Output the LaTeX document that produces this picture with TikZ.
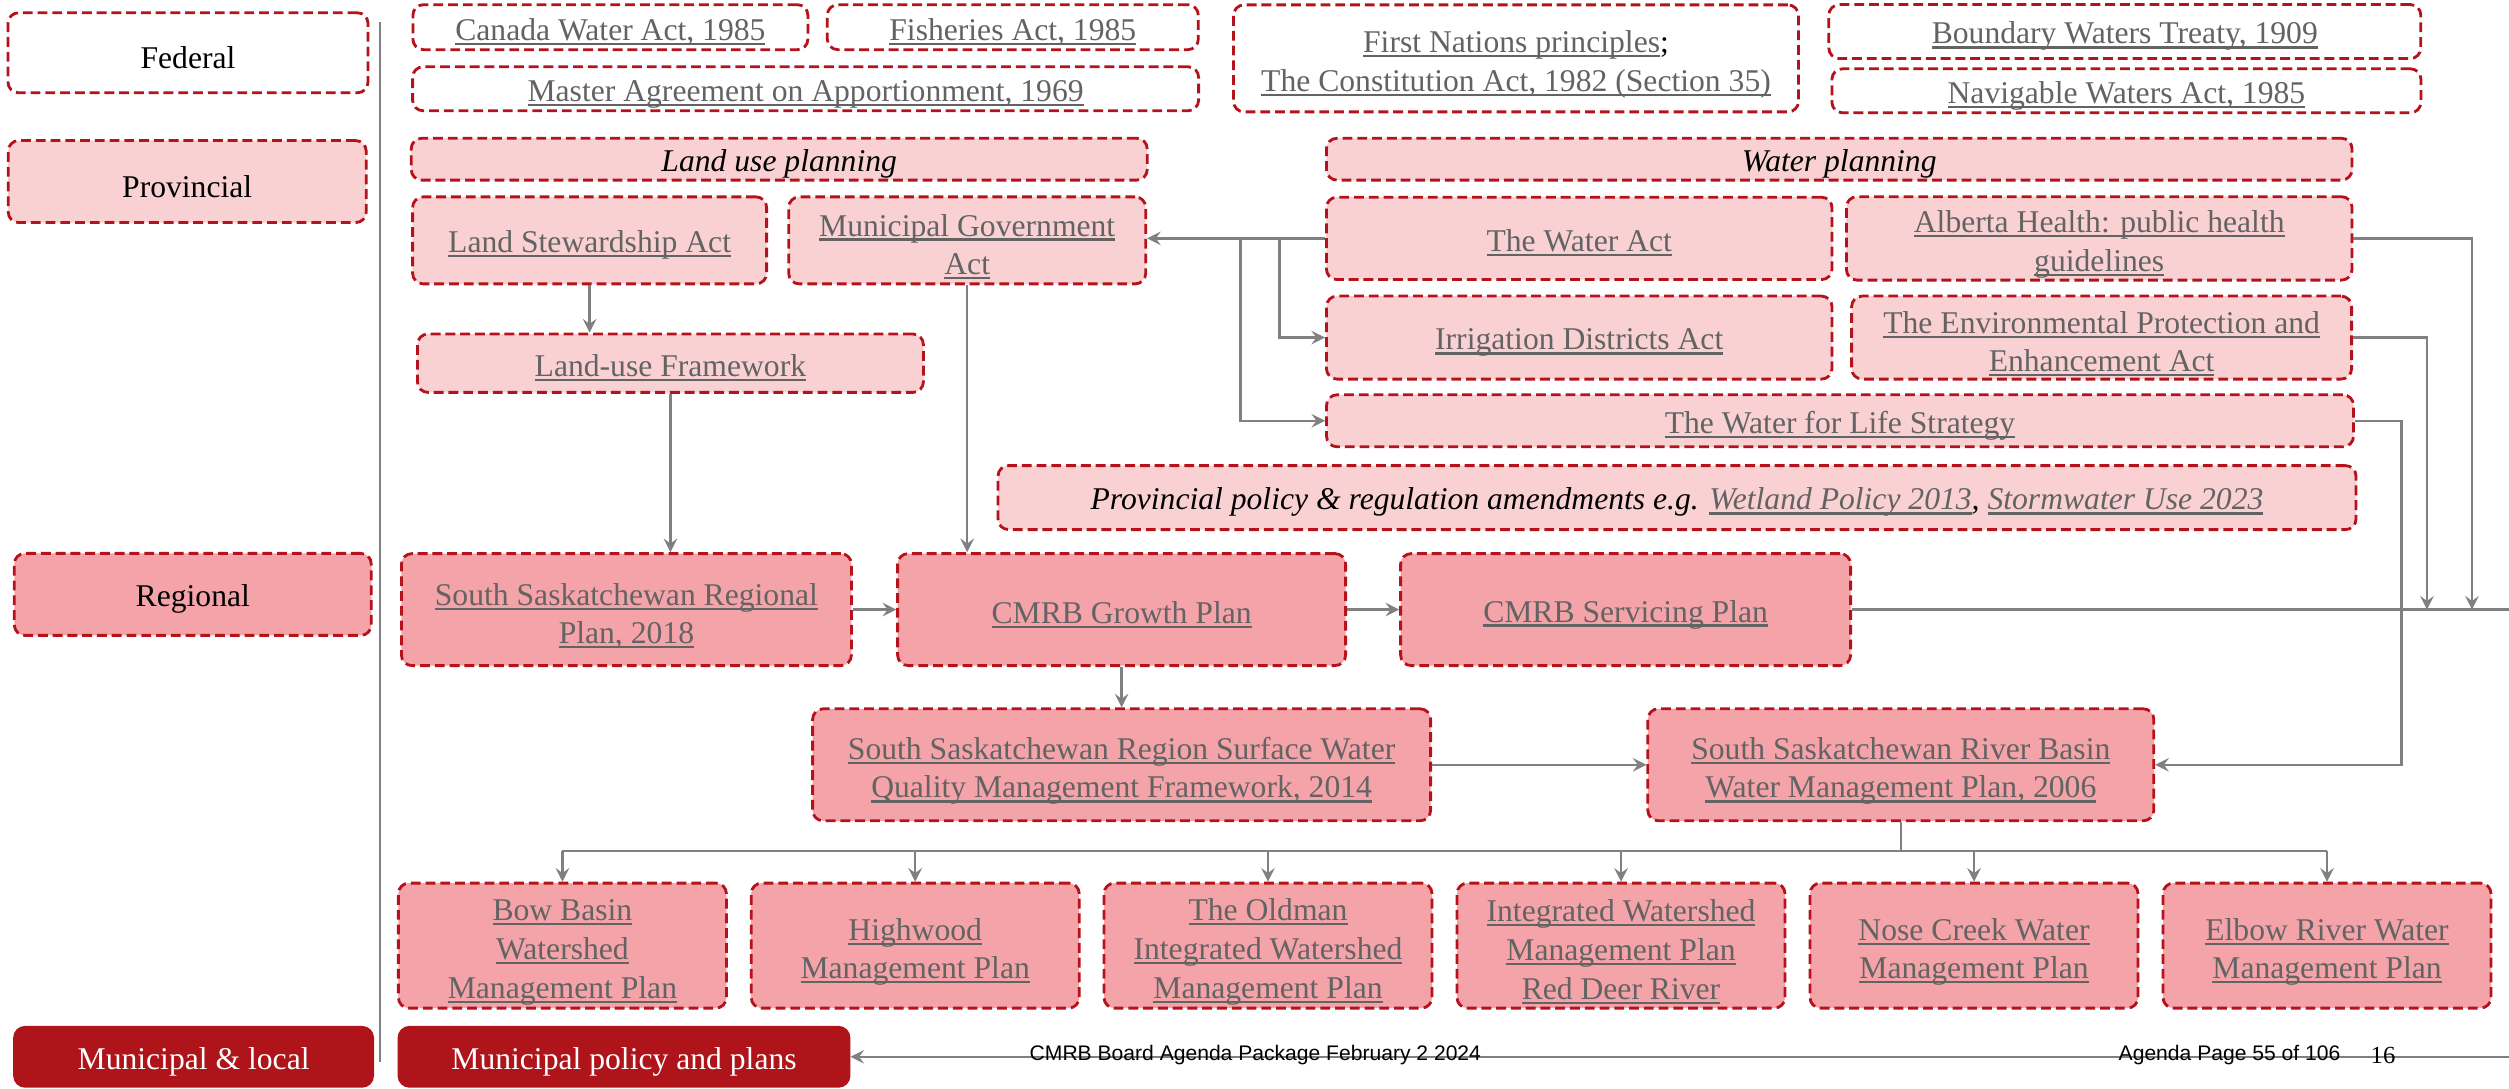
\documentclass[tikz,border=0pt]{standalone}
\usepackage{fontspec}
\setmainfont{Liberation Serif}
\newfontfamily\footfont{Liberation Sans}
\usetikzlibrary{positioning}
\definecolor{lpink}{HTML}{F9D1D3}
\definecolor{mpink}{HTML}{F4A3A8}
\definecolor{dred}{HTML}{AE1419}
\definecolor{bred}{HTML}{B5121B}
\definecolor{lnkgray}{HTML}{636363}
\definecolor{lgray}{HTML}{808080}
\newcommand{\lnk}[1]{{\color{lnkgray}\setbox0\hbox{#1}\rlap{\rule[-1.3pt]{\wd0}{0.6pt}}\box0}}
\newcommand{\up}{\rule{0pt}{9.8pt}}
\tikzset{
  box/.style={draw=bred,line width=0.8pt,dash pattern=on 2.8pt off 1.4pt,rounded corners=3pt,
    align=center,inner xsep=1pt,inner ysep=0.5pt,font=\fontsize{9}{11}\selectfont,
    execute at begin node={\rule{0pt}{9pt}}},
  fed/.style={box,fill=white},
  prov/.style={box,fill=lpink},
  reg/.style={box,fill=mpink},
  muni/.style={box,solid,draw=dred,fill=dred,text=white},
  conn/.style={draw=lgray,line width=0.7pt},
  arr/.style={conn,-stealth}
}
\begin{document}
\begin{tikzpicture}
\useasboundingbox (0,0) rectangle (25.09,10.88);
%levels
\node[fed,minimum width=3.6cm,minimum height=0.8cm] (federal) at (1.88,10.352) {Federal};
\node[prov,minimum width=3.58cm,minimum height=0.82cm] (provincial) at (1.872,9.064) {Provincial};
\node[reg,minimum width=3.57cm,minimum height=0.82cm] (regional) at (1.928,4.936) {Regional};
\node[muni,minimum width=3.58cm,minimum height=0.59cm] (munlocal) at (1.936,0.312) {Municipal \& local};
\draw[lgray,line width=0.5pt](3.8,10.66)--(3.8,0.26);
%federal
\node[fed,minimum width=3.95cm,minimum height=0.45cm] (cwa) at (6.104,10.608) {\lnk{Canada Water Act, 1985}};
\node[fed,minimum width=3.71cm,minimum height=0.45cm] (fish) at (10.128,10.608) {\lnk{Fisheries Act, 1985}};
\node[fed,minimum width=7.86cm,minimum height=0.44cm] (master) at (8.056,9.992) {\lnk{Master Agreement on Apportionment, 1969}};
\node[fed,minimum width=5.65cm,minimum height=1.07cm] (firstn) at (15.16,10.296) {\up\lnk{First Nations principles};\\\lnk{The Constitution Act, 1982 (Section 35)}};
\node[fed,minimum width=5.92cm,minimum height=0.54cm] (bwt) at (21.248,10.564) {\lnk{Boundary Waters Treaty, 1909}};
\node[fed,minimum width=5.89cm,minimum height=0.44cm] (nwa) at (21.264,9.972) {\lnk{Navigable Waters Act, 1985}};
%provincial
\node[prov,minimum width=7.36cm,minimum height=0.384cm] (landplan) at (7.792,9.288) {\textit{Land use planning}};
\node[prov,minimum width=10.256cm,minimum height=0.384cm] (waterplan) at (18.392,9.288) {\textit{Water planning}};
\node[prov,minimum width=3.54cm,minimum height=0.87cm] (lsa) at (5.896,8.476) {\lnk{Land Stewardship Act}};
\node[prov,minimum width=3.57cm,minimum height=0.87cm] (mga) at (9.672,8.476) {\up\lnk{Municipal Government}\\\lnk{Act}};
\node[prov,minimum width=5.056cm,minimum height=0.824cm] (wateract) at (15.792,8.496) {\lnk{The Water Act}};
\node[prov,minimum width=5.056cm,minimum height=0.824cm] (health) at (20.992,8.496) {\up\lnk{Alberta Health: public health}\\\lnk{guidelines}};
\node[prov,minimum width=5.06cm,minimum height=0.584cm] (luf) at (6.704,7.248) {\lnk{Land-use Framework}};
\node[prov,minimum width=5.056cm,minimum height=0.83cm] (irrig) at (15.792,7.504) {\lnk{Irrigation Districts Act}};
\node[prov,minimum width=5.0cm,minimum height=0.83cm] (epea) at (21.016,7.504) {\up\lnk{The Environmental Protection and}\\\lnk{Enhancement Act}};
\node[prov,minimum width=10.27cm,minimum height=0.52cm] (wfl) at (18.4,6.672) {\lnk{The Water for Life Strategy}};
\node[prov,minimum width=13.58cm,minimum height=0.64cm] (amend) at (16.77,5.904) {\textit{Provincial policy \& regulation amendments e.g. \lnk{Wetland Policy 2013}, \lnk{Stormwater Use 2023}}};
%regional
\node[reg,minimum width=4.5cm,minimum height=1.12cm] (ssrp) at (6.264,4.784) {\up\lnk{South Saskatchewan Regional}\\\lnk{Plan, 2018}};
\node[reg,minimum width=4.48cm,minimum height=1.12cm] (growth) at (11.216,4.784) {\lnk{CMRB Growth Plan}};
\node[reg,minimum width=4.5cm,minimum height=1.12cm] (servicing) at (16.256,4.784) {\lnk{CMRB Servicing Plan}};
\node[reg,minimum width=6.18cm,minimum height=1.12cm] (swq) at (11.216,3.232) {\up\lnk{South Saskatchewan Region Surface Water}\\\lnk{Quality Management Framework, 2014}};
\node[reg,minimum width=5.06cm,minimum height=1.12cm] (ssrb) at (19.008,3.232) {\up\lnk{South Saskatchewan River Basin}\\\lnk{Water Management Plan, 2006}};
\foreach \n/\x/\t in {bow/5.624/{\up\lnk{Bow Basin}\\\lnk{Watershed}\\\lnk{Management Plan}},
  highwood/9.152/{\up\lnk{Highwood}\\\lnk{Management Plan}},
  oldman/12.68/{\up\lnk{The Oldman}\\\lnk{Integrated Watershed}\\\lnk{Management Plan}},
  reddeer/16.21/{\up\lnk{Integrated Watershed}\\\lnk{Management Plan}\\\lnk{Red Deer River}},
  nose/19.74/{\up\lnk{Nose Creek Water}\\\lnk{Management Plan}},
  elbow/23.27/{\up\lnk{Elbow River Water}\\\lnk{Management Plan}}}
  \node[reg,minimum width=3.28cm,minimum height=1.25cm] (\n) at (\x,1.424) {\t};
%municipal
\node[muni,minimum width=4.5cm,minimum height=0.59cm] (munplans) at (6.24,0.312) {Municipal policy and plans};
\coordinate (edgeA) at (25.09,4.784);
\coordinate (edgeB) at (25.09,0.312);
%connectors
\draw[arr] (lsa.south)--(lsa.south|-luf.north);
\draw[arr] (luf.south)--(luf.south|-ssrp.north);
\draw[arr] (mga.south)--(mga.south|-growth.north);
\draw[arr] (wateract.west)--(wateract.west-|mga.east);
\draw[arr] ([xshift=-0.454cm]wateract.west)|-(irrig.west);
\draw[arr] ([xshift=-0.844cm]wateract.west)|-(wfl.west);
\draw[arr] (health.east)-|([xshift=-0.37cm]edgeA);
\draw[arr] (epea.east)-|([xshift=-0.82cm]edgeA);
\draw[arr] (wfl.east)--++(0.465,0)|-(ssrb.east);
\draw[arr] (ssrp)--(growth);
\draw[arr] (growth)--(servicing);
\draw[conn] (servicing.east)--(edgeA);
\draw[arr] (growth.south)--(growth.south|-swq.north);
\draw[arr] (swq)--(ssrb);
\draw[conn] (ssrb.south)--++(0,-0.288)coordinate(bus);
\draw[conn] (bow.north|-bus)--(elbow.north|-bus);
\foreach \n in {bow,highwood,oldman,reddeer,nose,elbow}
  \draw[arr] (\n.north|-bus)--(\n.north);
\draw[arr] (edgeB)--(munplans.east);
%footer
\node[font=\footfont\fontsize{6}{7}\selectfont,anchor=base west,inner sep=0pt] (footL) at (10.29,0.28) {CMRB Board Agenda Package February 2 2024};
\node[font=\footfont\fontsize{6}{7}\selectfont,anchor=base west,inner sep=0pt] (footR) at (21.18,0.28) {Agenda Page 55 of 106};
\node[font=\fontsize{7}{8}\selectfont,anchor=base west,inner sep=0pt] (pageno) at (23.7,0.248) {16};
\end{tikzpicture}
\end{document}
